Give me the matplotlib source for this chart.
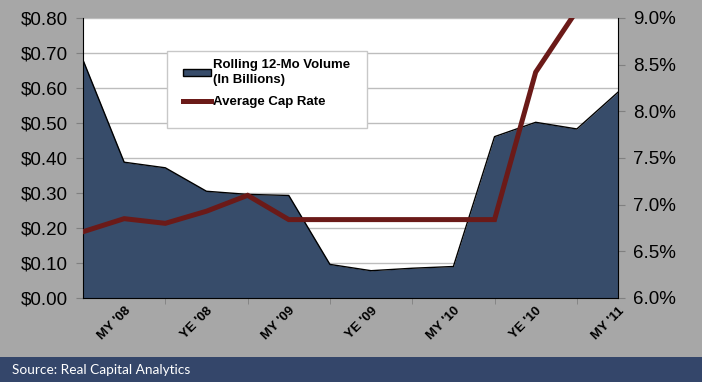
import matplotlib.pyplot as plt
from matplotlib.patches import Patch, Rectangle
from matplotlib.lines import Line2D

# Quarterly series, Q1 '08 through Q2 '11
quarters = ["Q1 '08", "MY '08", "Q3 '08", "YE '08", "Q1 '09", "MY '09", "Q3 '09",
            "YE '09", "Q1 '10", "MY '10", "Q3 '10", "YE '10", "Q1 '11", "MY '11"]
volume = [0.68, 0.388, 0.372, 0.305, 0.296, 0.293, 0.096,
          0.078, 0.085, 0.090, 0.461, 0.502, 0.483, 0.588]
capRate = [6.71, 6.85, 6.80, 6.93, 7.10, 6.84, 6.84,
           6.84, 6.84, 6.84, 6.84, 8.42, 9.08, 9.15]
labelQuarters = ["MY '08", "YE '08", "MY '09", "YE '09", "MY '10", "YE '10", "MY '11"]

volumeColor = '#374c6a'
capRateColor = '#6b1a18'
backColor = '#a7a7a7'
gridColor = '#bdbdbd'

plt.rcParams['font.family'] = ['Liberation Sans', 'DejaVu Sans']

fig = plt.figure(figsize=(7.02, 3.82), dpi=100, facecolor=backColor)
ax = fig.add_axes([83 / 702, 84 / 382, 535 / 702, 280 / 382])
ax.set_facecolor('white')

x = list(range(len(quarters)))

# Volume as filled area, drawn under the cap rate line
ax.fill_between(x, volume, 0, color=volumeColor, linewidth=0, zorder=2)
ax.plot(x, volume, color='black', linewidth=1, zorder=3)
ax.set_xlim(0, len(quarters) - 1)
ax.set_ylim(0, 0.8)
ax.set_yticks([i / 10 for i in range(9)])
ax.set_yticklabels(['${:.2f}'.format(i / 10) for i in range(9)], fontsize=13.5)
ax.yaxis.grid(True, color=gridColor, linewidth=1)
ax.set_axisbelow(True)

# Category labels on every other quarter, tick marks in between
labelPositions = [quarters.index(q) for q in labelQuarters]
ax.set_xticks(labelPositions)
ax.set_xticklabels(labelQuarters, rotation=45, ha='right', va='top',
                   rotation_mode='anchor', fontsize=9.5, fontweight='bold')
ax.tick_params(axis='x', which='major', length=0, pad=5)
ax.set_xticks(list(range(2, len(quarters) - 1, 2)), minor=True)
ax.tick_params(axis='x', which='minor', length=4, color='#808080', direction='out')
ax.tick_params(axis='y', length=5, color='#808080', pad=6)

for side in ['left', 'bottom']:
    ax.spines[side].set_color('black')
ax.spines['top'].set_visible(False)
ax.spines['right'].set_visible(False)

# Cap rate on the right-hand axis
ax2 = ax.twinx()
ax2.plot(x, capRate, color=capRateColor, linewidth=3.6, solid_joinstyle='miter', zorder=4)
ax2.set_ylim(6.0, 9.0)
ax2.set_yticks([6.0 + 0.5 * i for i in range(7)])
ax2.set_yticklabels(['{:.1f}%'.format(6.0 + 0.5 * i) for i in range(7)], fontsize=13.5)
ax2.tick_params(axis='y', length=5, color='#808080', pad=6)
ax2.spines['top'].set_visible(False)
ax2.spines['left'].set_visible(False)
ax2.spines['bottom'].set_visible(False)
ax2.spines['right'].set_color('black')

# Legend box
ax2.add_patch(Rectangle((0.157, 0.607), 0.374, 0.275, transform=ax2.transAxes,
                        facecolor='white', edgecolor='#c8c8c8', linewidth=1, zorder=5))
handles = [Patch(facecolor=volumeColor, edgecolor='black', linewidth=1),
           Line2D([0], [0], color=capRateColor, linewidth=3.6)]
legend = ax2.legend(handles, ['Rolling 12-Mo Volume\n(In Billions)', 'Average Cap Rate'],
                    loc='upper left', bbox_to_anchor=(0.17, 0.886), frameon=False,
                    prop={'weight': 'bold', 'size': 9.5}, handlelength=2.1,
                    handleheight=0.5, handletextpad=0.15, labelspacing=0.75,
                    borderpad=0.2)
for t in legend.get_texts():
    t.set_linespacing(1.3)
legend.set_zorder(6)

# Source band along the bottom
fig.patches.append(Rectangle((0, 0), 1, 25 / 382, transform=fig.transFigure,
                             facecolor='#34466a', edgecolor='none'))
fig.text(12 / 702, 12.5 / 382, 'Source: Real Capital Analytics', color='white',
         fontsize=9.8, family='Lato', va='center', ha='left')

plt.savefig('out.png', dpi=100, facecolor=backColor)
